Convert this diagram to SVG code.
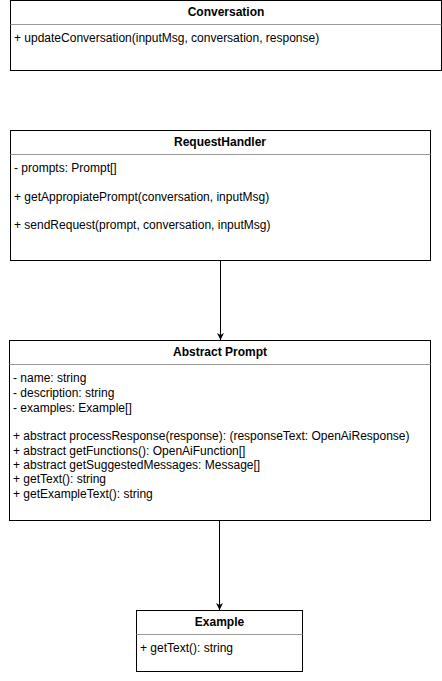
<svg xmlns="http://www.w3.org/2000/svg" width="442" height="681" viewBox="0 0 442 681">
<defs>
<marker id="arr" markerWidth="8" markerHeight="8" refX="7" refY="4" orient="auto" markerUnits="userSpaceOnUse">
<path d="M0,0.5 L7,4 L0,7.5 L2,4 Z" fill="#000"/>
</marker>
</defs>
<style>
rect.box{fill:#fff;stroke:#000;stroke-width:1}
line.sep{stroke:#999;stroke-width:1}
text{font-family:"Liberation Sans",Arial,sans-serif;font-size:12px;fill:#000}
text.title{font-weight:bold;text-anchor:middle}
.conn{stroke:#000;stroke-width:1;fill:none}
</style>
<rect width="442" height="681" fill="#fff"/>
<g id="Conversation">
<rect class="box" x="10.5" y="0.5" width="431" height="70"/>
<line class="sep" x1="10.5" y1="24.5" x2="441.5" y2="24.5"/>
<text class="title" x="226" y="16">Conversation</text>
<text x="14" y="42">+ updateConversation(inputMsg, conversation, response)</text>
</g>
<g id="RequestHandler">
<rect class="box" x="10.5" y="130.5" width="420" height="130"/>
<line class="sep" x1="10.5" y1="154.5" x2="430.5" y2="154.5"/>
<text class="title" x="220" y="146">RequestHandler</text>
<text x="14" y="172">- prompts: Prompt[]</text>
<text x="14" y="201">+ getAppropiatePrompt(conversation, inputMsg)</text>
<text x="14" y="229">+ sendRequest(prompt, conversation, inputMsg)</text>
</g>
<g id="AbstractPrompt">
<rect class="box" x="9.5" y="340.5" width="421" height="180"/>
<line class="sep" x1="9.5" y1="364.5" x2="430.5" y2="364.5"/>
<text class="title" x="220" y="356">Abstract Prompt</text>
<text x="13" y="382">- name: string</text>
<text x="13" y="397">- description: string</text>
<text x="13" y="412">- examples: Example[]</text>
<text x="13" y="440">+ abstract processResponse(response): (responseText: OpenAiResponse)</text>
<text x="13" y="455">+ abstract getFunctions(): OpenAiFunction[]</text>
<text x="13" y="469">+ abstract getSuggestedMessages: Message[]</text>
<text x="13" y="483">+ getText(): string</text>
<text x="13" y="498">+ getExampleText(): string</text>
</g>
<g id="Example">
<rect class="box" x="136.5" y="610.5" width="166" height="61"/>
<line class="sep" x1="136.5" y1="634.5" x2="302.5" y2="634.5"/>
<text class="title" x="219.5" y="626">Example</text>
<text x="140" y="652">+ getText(): string</text>
</g>
<g id="connectors">
<line class="conn" x1="220.5" y1="261" x2="220.5" y2="340" marker-end="url(#arr)"/>
<line class="conn" x1="219.5" y1="521" x2="219.5" y2="610" marker-end="url(#arr)"/>
</g>
</svg>
